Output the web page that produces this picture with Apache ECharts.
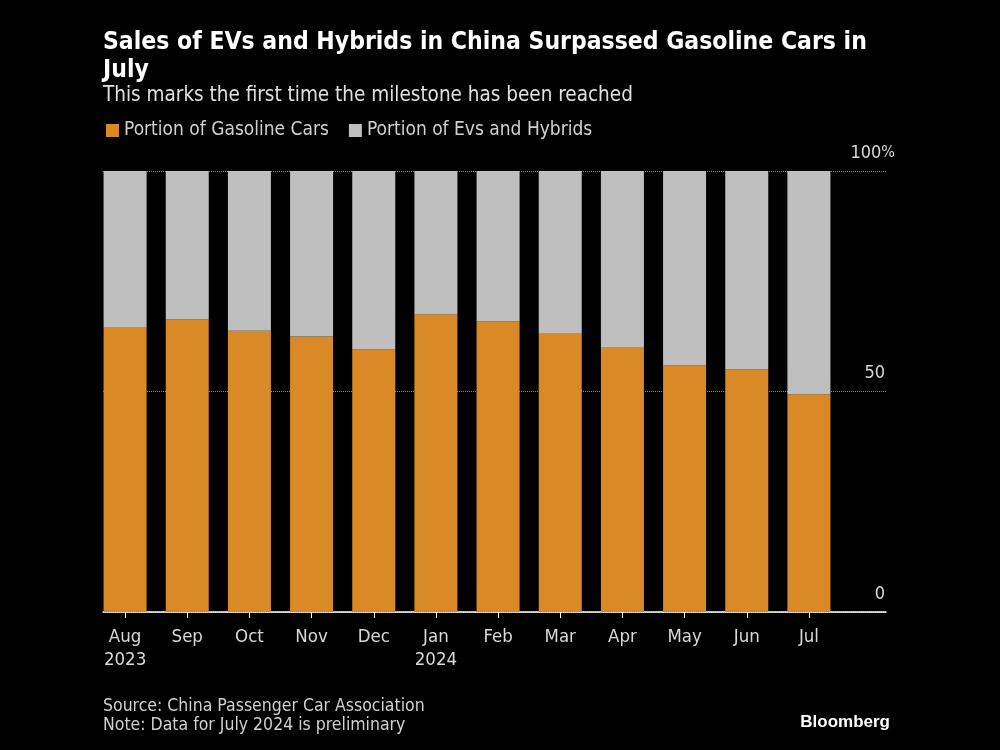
<!DOCTYPE html>
<html>
<head>
<meta charset="utf-8">
<script src="https://cdn.jsdelivr.net/npm/echarts@6/dist/echarts.min.js"></script>
<style>
html,body{margin:0;padding:0;background:#000;}
#c{width:1000px;height:750px;}
</style>
</head>
<body>
<div id="c"></div>
<script>
const categories = ['Aug\n2023','Sep','Oct','Nov','Dec','Jan\n2024','Feb','Mar','Apr','May','Jun','Jul'];
const gasoline = [64.6, 66.3, 63.8, 62.5, 59.5, 67.5, 65.9, 63.1, 59.9, 55.9, 55.0, 49.4];
const evHybrid = [35.4, 33.7, 36.2, 37.5, 40.5, 32.5, 34.1, 36.9, 40.1, 44.1, 45.0, 50.6];
const yTicks = [0, 50, 100];

const FONT = "'DejaVu Sans Condensed','Liberation Sans Narrow','DejaVu Sans',sans-serif";
const chart = echarts.init(document.getElementById('c'));
chart.setOption({
  backgroundColor: '#000',
  animation: false,
  textStyle: { fontFamily: FONT },
  title: [
    { text: 'Sales of EVs and Hybrids in China Surpassed Gasoline Cars in\nJuly',
      left: 98, top: 24,
      textStyle: { color: '#fff', fontSize: 24.5, fontWeight: 'bold', lineHeight: 28, fontFamily: FONT } },
    { text: 'This marks the first time the milestone has been reached',
      left: 98, top: 80,
      textStyle: { color: '#e0e0e0', fontSize: 20.5, fontWeight: 'normal', fontFamily: FONT } },
    { text: 'Source: China Passenger Car Association\nNote: Data for July 2024 is preliminary',
      left: 98, top: 692,
      textStyle: { color: '#d0d0d0', fontSize: 17.5, fontWeight: 'normal', lineHeight: 19, fontFamily: FONT } },
    { text: 'Bloomberg', right: 105, top: 709,
      textStyle: { color: '#fff', fontSize: 17, fontWeight: 'bold', fontFamily: "'Liberation Sans','DejaVu Sans',sans-serif" } }
  ],
  legend: {
    left: 101, top: 116,
    icon: 'rect', itemWidth: 13, itemHeight: 13, itemGap: 20, itemTextGap: 7,
    textStyle: { color: '#d0d0d0', fontSize: 19, fontFamily: FONT },
    data: ['Portion of Gasoline Cars', 'Portion of Evs and Hybrids']
  },
  grid: [
    { left: 94, right: 160, top: 171, bottom: 138 },
    { left: 103, right: 114, top: 171, bottom: 138 }
  ],
  xAxis: [
    { type: 'category', gridIndex: 0, data: categories,
      axisLine: { show: false },
      axisTick: { show: true, alignWithLabel: true, length: 6, lineStyle: { color: '#fff', width: 1 } },
      axisLabel: { color: '#d8d8d8', fontSize: 18.5, lineHeight: 23, margin: 14, interval: 0, fontFamily: FONT } },
    { type: 'value', gridIndex: 1, min: 0, max: 1, show: true,
      axisLine: { show: true, onZero: false, lineStyle: { color: '#fff', width: 1.5 } },
      axisTick: { show: false }, axisLabel: { show: false }, splitLine: { show: false } }
  ],
  yAxis: [
    { type: 'value', gridIndex: 0, min: 0, max: 100, show: false },
    { type: 'value', gridIndex: 1, min: yTicks[0], max: yTicks[2], interval: 50, position: 'right',
      axisLine: { show: false }, axisTick: { show: false },
      splitLine: { show: true, lineStyle: { color: '#8a8a8a', type: 'dotted', width: 1 } },
      axisLabel: {
        inside: false, margin: 9, align: 'right', verticalAlign: 'bottom',
        padding: [0, 0, 9, 0],
        color: '#d8d8d8', fontSize: 18, fontFamily: FONT,
        formatter: v => v === 100 ? '100{p|%}' : v + '{s| }',
        rich: {
          p: { color: '#d8d8d8', fontSize: 16, fontFamily: FONT },
          s: { width: 10, fontSize: 18, fontFamily: FONT }
        }
      } }
  ],
  series: [
    { name: 'Portion of Gasoline Cars', type: 'bar', stack: 'a', xAxisIndex: 0, yAxisIndex: 0,
      barWidth: 43, itemStyle: { color: '#d98a26' }, data: gasoline },
    { name: 'Portion of Evs and Hybrids', type: 'bar', stack: 'a', xAxisIndex: 0, yAxisIndex: 0,
      barWidth: 43, itemStyle: { color: '#bfbfbf' }, data: evHybrid }
  ]
});
</script>
</body>
</html>
